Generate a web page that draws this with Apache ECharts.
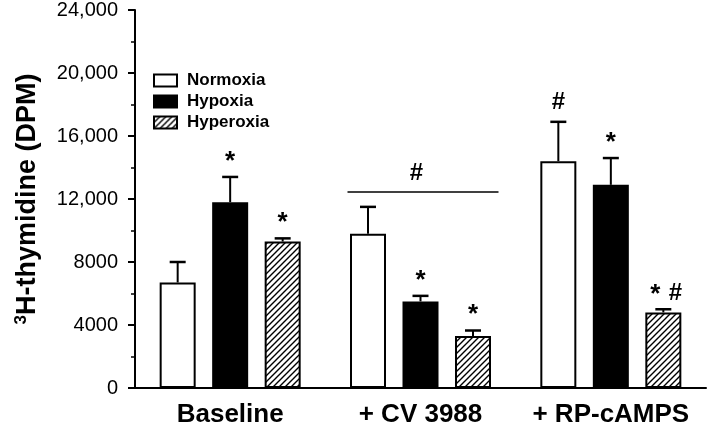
<!DOCTYPE html>
<html>
  <head>
    <meta charset="utf-8">
    <title>3H-thymidine</title>
    <script src="https://cdn.jsdelivr.net/npm/echarts@6/dist/echarts.min.js"></script>
    <style>
      html, body { margin: 0; padding: 0; background: #fff; }
      #main { width: 709px; height: 428px; }
    </style>
  </head>
  <body>
    <div id="main"></div>
    <script type="text/javascript">
      // data (DPM)
      var categories = ['Baseline', '+ CV 3988', '+ RP-cAMPS'];
      var groupNames = ['Normoxia', 'Hypoxia', 'Hyperoxia'];
      var normoxia = [6700, 9800, 14400];
      var normoxiaSem = [1300, 1700, 2500];
      var hypoxia = [11800, 5500, 12900];
      var hypoxiaSem = [1600, 350, 1700];
      var hyperoxia = [9300, 3300, 4800];
      var hyperoxiaSem = [200, 350, 200];
      // significance marks above each bar
      var normoxiaMarks = ['', '', '#'];
      var hypoxiaMarks = ['*', '*', '*'];
      var hyperoxiaMarks = ['*', '*', '* #'];
      // line over the whole CV 3988 group
      var groupLineCat = 1;
      var groupLineValue = 12450;
      var groupLineMark = '#';
      var yTicks = [0, 4000, 8000, 12000, 16000, 20000, 24000];

      var FONT = 'Liberation Sans, Arial, sans-serif';
      var BAR_W = 36;
      var BAR_STEP = 52.5;

      // hatch pattern for hyperoxia
      function hatch() {
        var c = document.createElement('canvas');
        c.width = 6; c.height = 6;
        var ctx = c.getContext('2d');
        ctx.fillStyle = '#fff';
        ctx.fillRect(0, 0, 6, 6);
        ctx.strokeStyle = '#000';
        ctx.lineWidth = 1.4;
        ctx.beginPath();
        ctx.moveTo(-1, 7); ctx.lineTo(7, -1);
        ctx.moveTo(-4, 4); ctx.lineTo(4, -4);
        ctx.moveTo(2, 10); ctx.lineTo(10, 2);
        ctx.stroke();
        return c;
      }

      var allMeans = [normoxia, hypoxia, hyperoxia];
      var allSem = [normoxiaSem, hypoxiaSem, hyperoxiaSem];
      var allMarks = [normoxiaMarks, hypoxiaMarks, hyperoxiaMarks];
      var errData = [];
      for (var s = 0; s < 3; s++) {
        for (var i = 0; i < categories.length; i++) {
          errData.push([i, s, allMeans[s][i], allMeans[s][i] + allSem[s][i], allMarks[s][i]]);
        }
      }

      function fmt(v) {
        if (v < 10000) return String(v);
        return String(v).replace(/\B(?=(\d{3})+$)/g, ',');
      }

      // one glyph of a significance mark, centred 'gap' px above y
      function markText(ch, x, y, gap) {
        var star = ch === '*';
        var size = star ? 26 : 24;
        // glyph centre sits about 0.64em (star) / 0.6em (#) above the box bottom
        var bottom = y - gap + (star ? 0.64 : 0.6) * size;
        return {
          type: 'text',
          style: { text: ch, x: x, y: bottom, align: 'center', verticalAlign: 'bottom', font: 'bold ' + size + 'px ' + FONT, fill: '#000' }
        };
      }

      var myChart = echarts.init(document.getElementById('main'));
      var fills = ['#fff', '#000', { image: hatch(), repeat: 'repeat' }];
      var barSeries = allMeans.map(function (d, k) {
        return {
          name: groupNames[k],
          type: 'bar',
          data: d,
          barWidth: BAR_W,
          barGap: ((BAR_STEP - BAR_W) / BAR_W * 100) + '%',
          itemStyle: { color: fills[k], borderColor: '#000', borderWidth: 2 },
          emphasis: { disabled: true },
          z: 2
        };
      });

      var option = {
        animation: false,
        grid: { left: 135, right: 3, top: 6, bottom: 38 },
        legend: {
          orient: 'vertical',
          left: 148,
          top: 67,
          icon: 'rect',
          itemWidth: 23,
          itemHeight: 12,
          itemGap: 4,
          data: groupNames,
          textStyle: { fontFamily: FONT, fontWeight: 'bold', fontSize: 17, color: '#000', padding: [0, 0, 0, 5] }
        },
        xAxis: {
          type: 'category',
          data: categories,
          axisLine: { lineStyle: { color: '#000', width: 2 } },
          axisTick: { alignWithLabel: true, length: 6, lineStyle: { color: '#000', width: 2 } },
          axisLabel: { interval: 0, hideOverlap: false, margin: 14, fontFamily: FONT, fontWeight: 'bold', fontSize: 26, color: '#000' }
        },
        yAxis: {
          type: 'value',
          min: 0,
          max: 24000,
          interval: 4000,
          name: '{sup|3}{main|H-thymidine (DPM)}',
          nameLocation: 'middle',
          nameGap: 92,
          nameTextStyle: {
            rich: {
              sup: { fontFamily: FONT, fontWeight: 'bold', fontSize: 17, color: '#000', verticalAlign: 'top', lineHeight: 30 },
              main: { fontFamily: FONT, fontWeight: 'bold', fontSize: 27, color: '#000', lineHeight: 30 }
            }
          },
          axisLine: { show: true, lineStyle: { color: '#000', width: 2 } },
          axisTick: { show: true, length: 7, lineStyle: { color: '#000', width: 2 } },
          minorTick: { show: true, splitNumber: 2, length: 4, lineStyle: { color: '#000', width: 1.5 } },
          splitLine: { show: false },
          axisLabel: {
            margin: 17,
            fontFamily: FONT,
            fontSize: 20,
            color: '#000',
            formatter: function (v) { return yTicks.indexOf(v) >= 0 ? fmt(v) : ''; }
          }
        },
        series: barSeries.concat([
          {
            type: 'custom',
            data: errData,
            encode: { x: 0, y: 3 },
            z: 3,
            silent: true,
            renderItem: function (params, api) {
              var cat = api.value(0), s = api.value(1);
              var mean = api.value(2), top = api.value(3);
              var mark = errData[params.dataIndex][4];
              var cx = api.coord([cat, 0])[0] + (s - 1) * BAR_STEP;
              var y1 = api.coord([cat, mean])[1];
              var y2 = api.coord([cat, top])[1];
              var children = [
                { type: 'line', shape: { x1: cx, y1: y1, x2: cx, y2: y2 }, style: { stroke: '#000', lineWidth: 2 } },
                { type: 'line', shape: { x1: cx - 8, y1: y2, x2: cx + 8, y2: y2 }, style: { stroke: '#000', lineWidth: 2.5 } }
              ];
              var parts = mark ? mark.split(' ') : [];
              if (parts.length === 1) {
                children.push(markText(parts[0], cx, y2, parts[0] === '*' ? 19 : 22));
              } else if (parts.length === 2) {
                children.push(markText(parts[0], cx - 8, y2, 18));
                children.push(markText(parts[1], cx + 12, y2, 18));
              }
              return { type: 'group', children: children };
            }
          },
          {
            type: 'custom',
            data: [[groupLineCat, groupLineValue]],
            z: 3,
            silent: true,
            renderItem: function (params, api) {
              var p = api.coord([api.value(0), api.value(1)]);
              return {
                type: 'group',
                children: [
                  { type: 'line', shape: { x1: p[0] - 73, y1: p[1], x2: p[0] + 78, y2: p[1] }, style: { stroke: '#000', lineWidth: 1.5 } },
                  markText(groupLineMark, p[0] - 4, p[1], 21)
                ]
              };
            }
          }
        ])
      };
      myChart.setOption(option);
    </script>
  </body>
</html>
